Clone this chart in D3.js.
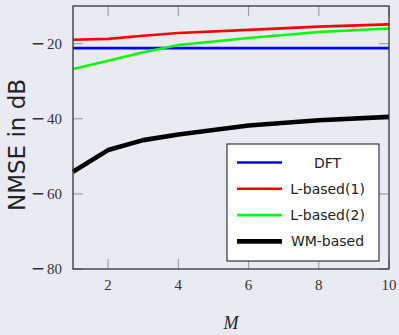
<!DOCTYPE html>
<html lang="en">
<head>
<meta charset="UTF-8">
<script src="https://d3js.org/d3.v7.min.js"></script>
<style>
  body { margin: 0; background: #eaeaf2; }
  .axis-label { font-family: "DejaVu Sans", sans-serif; font-size: 23px; fill: #222; }
  .legend-text { font-family: "DejaVu Sans", sans-serif; font-size: 14px; fill: #222; }
</style>
</head>
<body>
<svg width="399" height="335"></svg>
<script>
  // values
  const mValues = [1, 2, 3, 4, 6, 8, 10];
  const dft = [-21.2, -21.2, -21.2, -21.2, -21.2, -21.2, -21.2];
  const lBased1 = [-19.0, -18.75, -17.9, -17.2, -16.35, -15.5, -14.9];
  const lBased2 = [-26.75, -24.6, -22.3, -20.4, -18.5, -16.9, -16.0];
  const wmBased = [-54.1, -48.35, -45.7, -44.2, -41.8, -40.4, -39.5];
  const seriesNames = ["DFT", "L-based(1)", "L-based(2)", "WM-based"];
  const seriesColors = ["#0000ff", "#ff0000", "#00ff00", "#000000"];
  const seriesWidths = [2.6, 2.6, 2.6, 4.6];
  const xTicks = [2, 4, 6, 8, 10];
  const yTicks = [-80, -60, -40, -20];

  const width = 399, height = 335;
  const margin = { top: 6, right: 10, bottom: 66, left: 73 };

  const svg = d3.select("svg");

  const x = d3.scaleLinear().domain([1, 10]).range([margin.left, width - margin.right]);
  const y = d3.scaleLinear().domain([-80, -10]).range([height - margin.bottom, margin.top]);

  const tickLen = 10;
  const serif = "'Liberation Serif', 'DejaVu Serif', serif";

  // inner ticks on all four sides
  const ticks = svg.append("g").attr("stroke", "#a0a0a8").attr("stroke-width", 1.2);
  xTicks.forEach(t => {
    ticks.append("line").attr("x1", x(t)).attr("x2", x(t))
      .attr("y1", y(-80)).attr("y2", y(-80) - tickLen);
    ticks.append("line").attr("x1", x(t)).attr("x2", x(t))
      .attr("y1", y(-10)).attr("y2", y(-10) + tickLen);
  });
  yTicks.forEach(t => {
    ticks.append("line").attr("x1", x(1)).attr("x2", x(1) + tickLen)
      .attr("y1", y(t)).attr("y2", y(t));
    ticks.append("line").attr("x1", x(10)).attr("x2", x(10) - tickLen)
      .attr("y1", y(t)).attr("y2", y(t));
  });

  // tick labels
  svg.selectAll(".xlab").data(xTicks).enter().append("text")
    .attr("x", d => x(d)).attr("y", y(-80) + 21)
    .attr("text-anchor", "middle")
    .style("font-family", serif).style("font-size", "15px").style("fill", "#333")
    .text(d => d);

  const ylab = svg.selectAll(".ylab").data(yTicks).enter().append("text")
    .attr("x", x(1) - 11).attr("y", d => y(d) + 5)
    .attr("text-anchor", "end")
    .style("font-family", serif).style("font-size", "15px").style("fill", "#333");
  // wide minus like the TeX one
  ylab.append("tspan").style("font-family", "'DejaVu Sans', sans-serif")
    .style("font-size", "17px").text("\u2212");
  ylab.append("tspan").attr("dx", 2).text(d => Math.abs(d));

  // series
  const line = d3.line().x((d, i) => x(mValues[i])).y(d => y(d));
  const allSeries = [dft, lBased1, lBased2, wmBased];
  allSeries.forEach((s, k) => {
    svg.append("path").datum(s)
      .attr("d", line)
      .attr("fill", "none")
      .attr("stroke", seriesColors[k])
      .attr("stroke-width", seriesWidths[k])
      .attr("stroke-linejoin", "round");
  });

  // frame
  svg.append("rect")
    .attr("x", x(1)).attr("y", y(-10))
    .attr("width", x(10) - x(1)).attr("height", y(-80) - y(-10))
    .attr("fill", "none").attr("stroke", "#333").attr("stroke-width", 1.3);

  // legend
  const lg = svg.append("g").attr("transform", "translate(227,144)");
  lg.append("rect").attr("width", 152).attr("height", 117)
    .attr("fill", "white").attr("stroke", "#111").attr("stroke-width", 1);
  seriesNames.forEach((name, k) => {
    const ly = 18.5 + k * 26.3;
    lg.append("line").attr("x1", 10).attr("x2", 55).attr("y1", ly).attr("y2", ly)
      .attr("stroke", seriesColors[k]).attr("stroke-width", seriesWidths[k]);
    lg.append("text").attr("class", "legend-text")
      .attr("x", 100.5).attr("y", ly + 5)
      .attr("text-anchor", "middle")
      .text(name);
  });

  // axis titles
  svg.append("text").attr("class", "axis-label")
    .attr("transform", "translate(25,145) rotate(-90)")
    .attr("text-anchor", "middle")
    .text("NMSE in dB");

  svg.append("text")
    .attr("x", (x(1) + x(10)) / 2).attr("y", 329)
    .attr("text-anchor", "middle")
    .style("font-family", serif)
    .style("font-style", "italic")
    .style("font-size", "18px")
    .style("fill", "#222")
    .text("M");
</script>
</body>
</html>
